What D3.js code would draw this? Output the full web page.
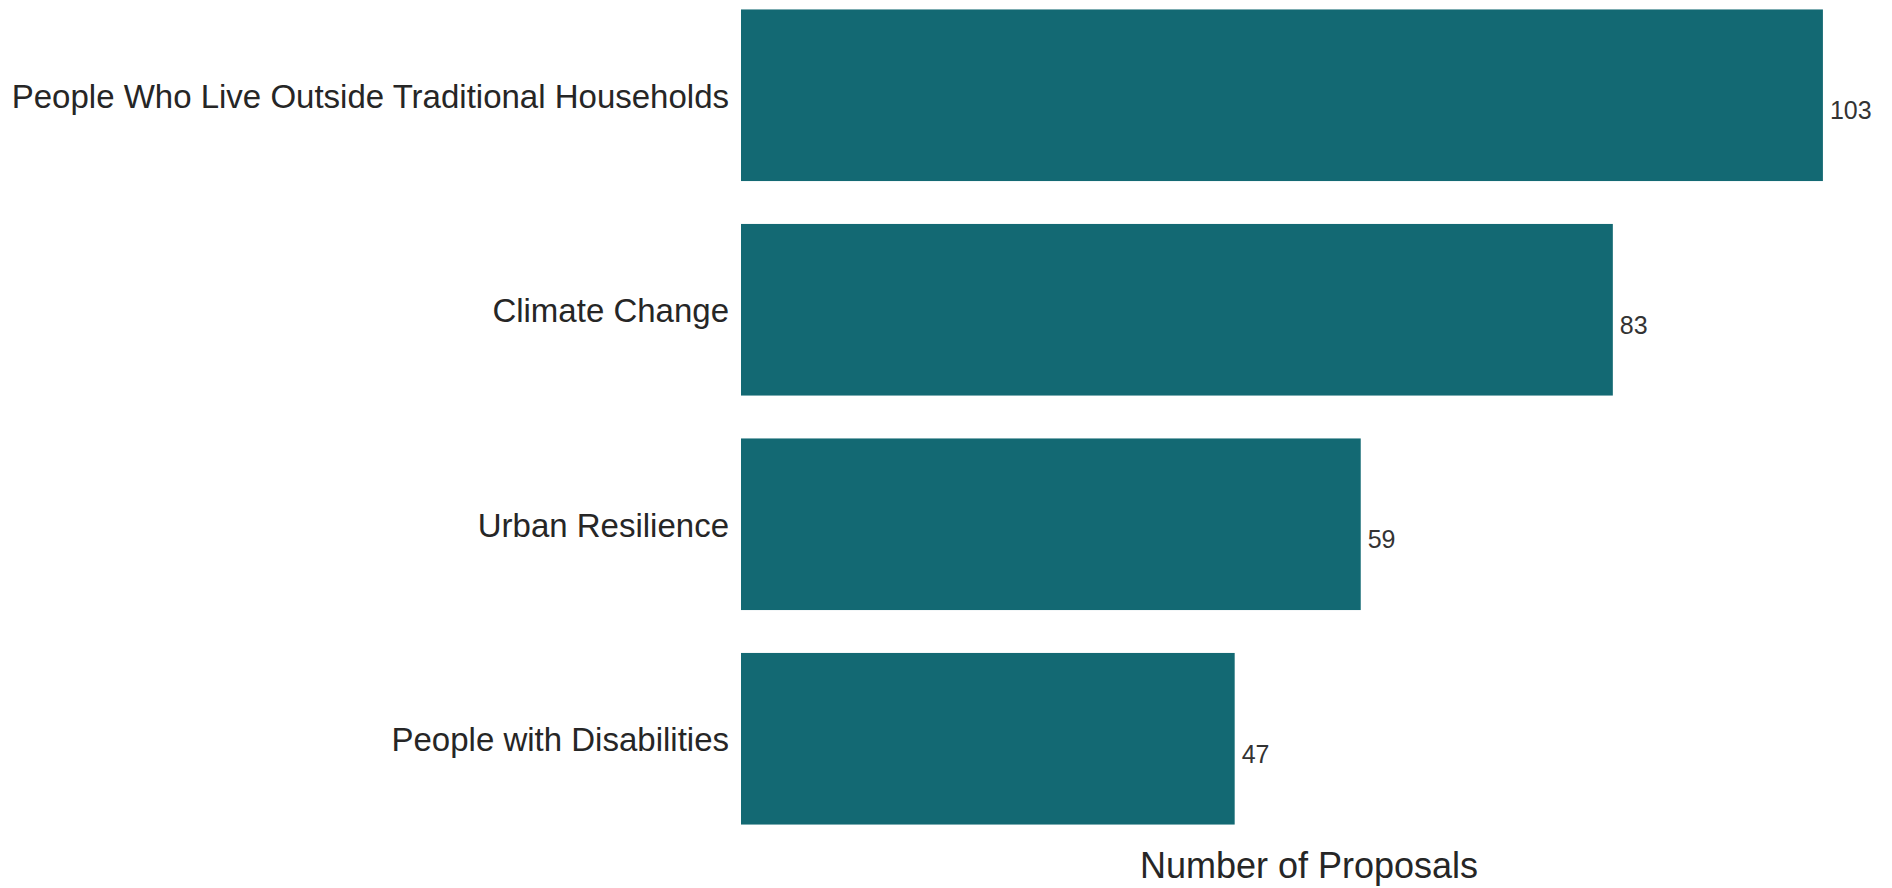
<!DOCTYPE html>
<html>
<head>
<meta charset="utf-8">
<script src="https://cdn.jsdelivr.net/npm/d3@7"></script>
<style>
  html, body { margin: 0; padding: 0; background: #ffffff; }
  svg { display: block; }
  text { font-family: "Liberation Sans", Arial, Helvetica, sans-serif; }
</style>
</head>
<body>
<svg id="chart" width="1892" height="888"></svg>
<script>
const categories = [
  "People Who Live Outside Traditional Households",
  "Climate Change",
  "Urban Resilience",
  "People with Disabilities"
];
const values = [103, 83, 59, 47];
const xAxisLabel = "Number of Proposals";

const data = categories.map((c, i) => ({ category: c, value: values[i] }));

const svg = d3.select("#chart");

const x = d3.scaleLinear()
  .domain([0, d3.max(values) * 1.05])
  .range([741, 1877]);

const y = d3.scaleBand()
  .domain(categories)
  .range([-12, 846])
  .paddingInner(0.2)
  .paddingOuter(0.1);

const barColor = "#136973";

svg.append("g")
  .selectAll("rect")
  .data(data)
  .join("rect")
  .attr("x", x(0))
  .attr("y", d => y(d.category))
  .attr("width", d => x(d.value) - x(0))
  .attr("height", y.bandwidth())
  .attr("fill", barColor);

// category labels (y axis, no line, no ticks)
const yAxis = d3.axisLeft(y).tickSize(0).tickPadding(12);
const gy = svg.append("g")
  .attr("transform", `translate(${x(0)},2)`)
  .call(yAxis);
gy.select(".domain").remove();
gy.selectAll("text")
  .attr("font-size", 33)
  .attr("fill", "#262626")
  .attr("font-family", '"Liberation Sans", Arial, sans-serif');

// value labels
svg.append("g")
  .selectAll("text")
  .data(data)
  .join("text")
  .attr("x", d => x(d.value) + 7)
  .attr("y", d => y(d.category) + y.bandwidth() / 2 + 24)
  .attr("font-size", 25)
  .attr("fill", "#333333")
  .text(d => d.value);

// x axis label
svg.append("text")
  .attr("x", (x.range()[0] + x.range()[1]) / 2)
  .attr("y", 878)
  .attr("text-anchor", "middle")
  .attr("font-size", 36)
  .attr("fill", "#262626")
  .text(xAxisLabel);
</script>
</body>
</html>
